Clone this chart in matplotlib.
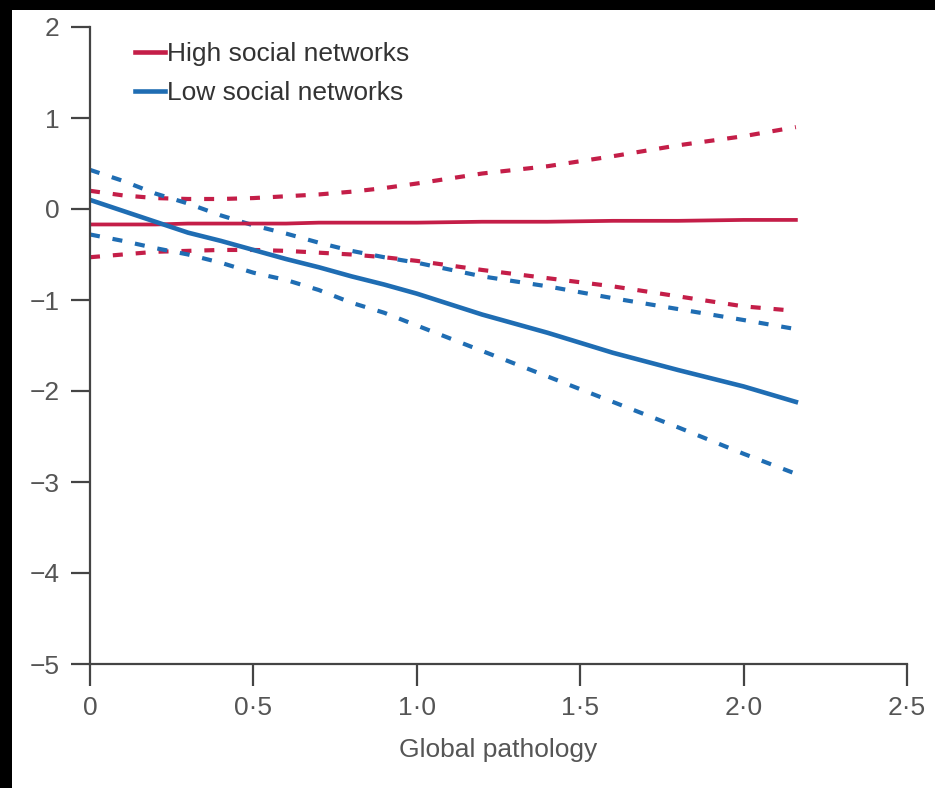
import matplotlib.pyplot as plt
from matplotlib.patches import Rectangle

# values
pathology = [0, 0.1, 0.2, 0.3, 0.4, 0.5, 0.6, 0.7, 0.8, 0.9, 1.0,
             1.2, 1.4, 1.6, 1.8, 2.0, 2.16]

high_mean = [-0.17, -0.17, -0.17, -0.16, -0.16, -0.16, -0.16, -0.15, -0.15, -0.15,
             -0.15, -0.14, -0.14, -0.13, -0.13, -0.12, -0.12]
high_upper = [0.20, 0.15, 0.12, 0.11, 0.11, 0.12, 0.14, 0.16, 0.19, 0.23, 0.28,
              0.39, 0.47, 0.58, 0.70, 0.80, 0.90]
high_lower = [-0.53, -0.50, -0.47, -0.46, -0.45, -0.45, -0.46, -0.48, -0.50, -0.53,
              -0.57, -0.67, -0.76, -0.85, -0.96, -1.07, -1.12]

low_mean = [0.10, -0.02, -0.14, -0.26, -0.35, -0.45, -0.55, -0.64, -0.74, -0.83,
            -0.93, -1.16, -1.36, -1.58, -1.77, -1.95, -2.12]
low_upper = [0.43, 0.31, 0.17, 0.06, -0.07, -0.18, -0.27, -0.37, -0.46, -0.53,
             -0.59, -0.74, -0.85, -0.98, -1.10, -1.22, -1.32]
low_lower = [-0.28, -0.35, -0.43, -0.50, -0.59, -0.70, -0.78, -0.89, -1.03, -1.14,
             -1.28, -1.56, -1.84, -2.12, -2.40, -2.69, -2.91]

x_ticks = [0, 0.5, 1.0, 1.5, 2.0, 2.5]
x_labels = ["0", "0·5", "1·0", "1·5", "2·0", "2·5"]
y_ticks = [-5, -4, -3, -2, -1, 0, 1, 2]
y_labels = ["−5", "−4", "−3", "−2", "−1", "0", "1", "2"]

red = "#c41e48"
blue = "#1f6db3"
axis_col = "#444444"
text_col = "#555555"

plt.rcParams['font.family'] = ['Liberation Sans', 'DejaVu Sans']

fig = plt.figure(figsize=(9.35, 7.88), dpi=100, facecolor="black")
# white panel, the black border stays on the top and left
fig.patches.append(Rectangle((12 / 935, 0), 1, 778 / 788, transform=fig.transFigure,
                             facecolor="white", edgecolor="none", zorder=-5))

ax = fig.add_axes([90 / 935, 124 / 788, 817 / 935, 637 / 788])
ax.set_facecolor("none")

dash = (0, (2.4, 3.1))
ax.plot(pathology, high_upper, color=red, lw=3.0, ls=dash)
ax.plot(pathology, high_lower, color=red, lw=3.0, ls=dash)
ax.plot(pathology, low_upper, color=blue, lw=3.0, ls=dash)
ax.plot(pathology, low_lower, color=blue, lw=3.0, ls=dash)
ax.plot(pathology, high_mean, color=red, lw=2.7, label="High social networks")
ax.plot(pathology, low_mean, color=blue, lw=3.3, label="Low social networks")

ax.set_xlim(0, 2.5)
ax.set_ylim(-5, 2)
ax.spines[['top', 'right']].set_visible(False)
for side in ['left', 'bottom']:
    ax.spines[side].set_color(axis_col)
    ax.spines[side].set_linewidth(1.6)

ax.set_xticks(x_ticks)
ax.set_xticklabels(x_labels)
ax.set_yticks(y_ticks)
ax.set_yticklabels(y_labels)
ax.tick_params(axis='x', direction='out', length=16, width=1.6, color=axis_col,
               labelsize=19, labelcolor=text_col, pad=7)
ax.tick_params(axis='y', direction='out', length=14, width=1.6, color=axis_col,
               labelsize=19, labelcolor=text_col, pad=8)
ax.set_xlabel("Global pathology", fontsize=19, color=text_col, labelpad=13)

leg = ax.legend(loc='upper left', bbox_to_anchor=(0.055, 0.976), frameon=False,
                fontsize=19, handlelength=1.15, handletextpad=0.08, labelspacing=0.55,
                borderpad=0, borderaxespad=0, labelcolor="#333333")
for line in leg.get_lines():
    line.set_linewidth(3.3)

fig.savefig("out.png", dpi=100, facecolor="black")
